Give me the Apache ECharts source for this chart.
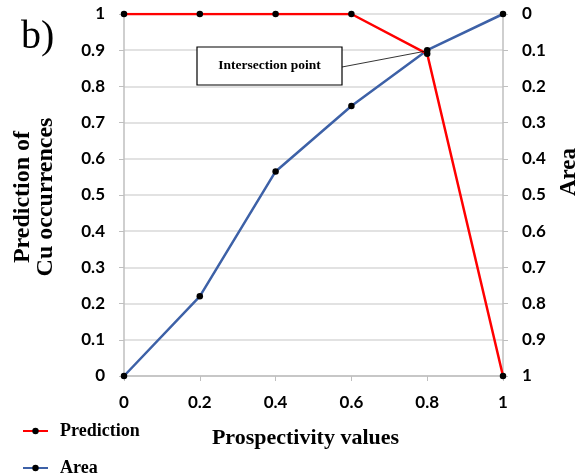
<!DOCTYPE html>
<html><head><meta charset="utf-8">
<script src="https://cdn.jsdelivr.net/npm/echarts@6/dist/echarts.min.js"></script>
<style>html,body{margin:0;padding:0;background:#fff}#c{width:579px;height:474px}</style>
</head><body><div id="c"></div>
<script>
const xValues = [0, 0.2, 0.4, 0.6, 0.8, 1];
const prediction = [1, 1, 1, 1, 0.89, 0];
const area = [1, 0.78, 0.435, 0.254, 0.1, 0];
const chart = echarts.init(document.getElementById('c'));
const tickFont = {fontFamily: 'Lato', fontWeight: 'bold', fontSize: 17, color: '#000'};
const axisGray = '#bfbfbf';
const legendText = {fontFamily: 'Liberation Serif', fontWeight: 'bold', fontSize: 18, color: '#000', padding: [0,0,0,7]};
const fmt = v => String(+v.toFixed(1));
const opt = {
  animation: false,
  grid: {left: 124, right: 76, top: 14, bottom: 98},
  legend: [
    {left: 17, top: 417, itemWidth: 25, itemHeight: 8, textStyle: legendText, data: ['Prediction'], selectedMode: false},
    {left: 17, top: 454, itemWidth: 25, itemHeight: 8, textStyle: legendText, data: ['Area'], selectedMode: false}
  ],
  xAxis: {
    type: 'value', min: 0, max: 1, interval: 0.2,
    axisLine: {lineStyle: {color: axisGray, width: 1.5}},
    axisTick: {show: true, length: 5, lineStyle: {color: axisGray}},
    splitLine: {show: false},
    axisLabel: Object.assign({margin: 18, formatter: fmt}, tickFont),
    name: 'Prospectivity values', nameLocation: 'middle', nameGap: 51,
    nameTextStyle: {fontFamily: 'Liberation Serif', fontWeight: 'bold', fontSize: 22, color: '#000', padding: [0, 16, 0, 0]}
  },
  yAxis: [{
    type: 'value', min: 0, max: 1, interval: 0.1,
    axisLine: {show: true, lineStyle: {color: axisGray, width: 1.5}},
    axisTick: {show: true, length: 5, lineStyle: {color: axisGray}},
    splitLine: {show: true, lineStyle: {color: '#d9d9d9', width: 1.5}},
    axisLabel: Object.assign({margin: 19, formatter: fmt}, tickFont)
  }, {
    type: 'value', min: 0, max: 1, interval: 0.1, inverse: true, position: 'right',
    axisLine: {show: true, lineStyle: {color: axisGray, width: 1.5}},
    axisTick: {show: true, length: 5, lineStyle: {color: axisGray}},
    splitLine: {show: false},
    axisLabel: Object.assign({margin: 19, formatter: fmt}, tickFont)
  }],
  series: [{
    name: 'Prediction', type: 'line', yAxisIndex: 0,
    data: xValues.map((x, i) => [x, prediction[i]]),
    lineStyle: {color: '#ff0000', width: 2.5},
    itemStyle: {color: '#000'},
    symbol: 'circle', symbolSize: 6.5, z: 3,
    emphasis: {disabled: true}
  }, {
    name: 'Area', type: 'line', yAxisIndex: 1,
    data: xValues.map((x, i) => [x, area[i]]),
    lineStyle: {color: '#3d61a7', width: 2.5},
    itemStyle: {color: '#000'},
    symbol: 'circle', symbolSize: 6.5, z: 2,
    emphasis: {disabled: true}
  }]
};
chart.setOption(opt);
const target = chart.convertToPixel({xAxisIndex:0,yAxisIndex:1},[xValues[4], area[4]]);
chart.setOption({graphic: [
  {type:'line', shape:{x1:342, y1:67, x2:target[0]-2, y2:target[1]+1}, style:{stroke:'#000', lineWidth:0.8}, z:90},
  {type:'rect', shape:{x:197, y:47, width:145, height:38}, style:{fill:'#fff', stroke:'#000', lineWidth:1.2}, z:95},
  {type:'text', x:269.5, y:66, style:{text:'Intersection point', fontFamily:'Liberation Serif', fontWeight:'bold', fontSize:13.5, fill:'#000', align:'center', verticalAlign:'middle'}, z:96},
  {type:'text', x:21, y:37, style:{text:'b)', fontFamily:'Liberation Serif', fontSize:40, fill:'#000', align:'left', verticalAlign:'middle'}},
  {type:'text', x:34, y:197, rotation:Math.PI/2, style:{text:'Prediction of\nCu occurrences', fontFamily:'Liberation Serif', fontWeight:'bold', fontSize:24, lineHeight:23, fill:'#000', align:'center', verticalAlign:'middle'}},
  {type:'text', x:569, y:172, rotation:Math.PI/2, style:{text:'Area', fontFamily:'Liberation Serif', fontWeight:'bold', fontSize:23, fill:'#000', align:'center', verticalAlign:'middle'}}
]});
</script></body></html>
